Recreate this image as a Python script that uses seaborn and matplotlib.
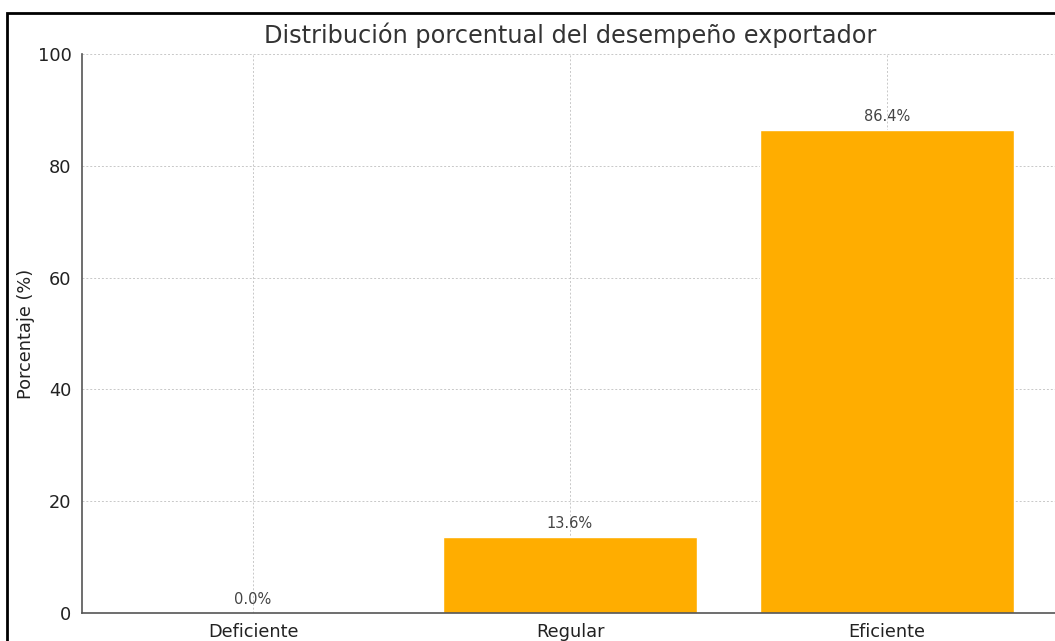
import matplotlib
matplotlib.use("Agg")
import matplotlib.pyplot as plt
import seaborn as sns
import pandas as pd
from matplotlib.patches import Rectangle

categorias = ["Deficiente", "Regular", "Eficiente"]
porcentajes = [0.0, 13.6, 86.4]
etiquetas = ["0.0%", "13.6%", "86.4%"]
yticks = [0, 20, 40, 60, 80, 100]

sns.set_style("white")
plt.rcParams['font.family'] = ['DejaVu Sans']

df = pd.DataFrame({"Categoria": categorias, "Porcentaje": porcentajes})

fig = plt.figure(figsize=(10.55, 6.41), dpi=100)
ax = fig.add_axes([82/1055, 1 - 613/641, (1058 - 82)/1055, (613 - 54)/641])

sns.barplot(data=df, x="Categoria", y="Porcentaje", color="#FFAD00",
            saturation=1, width=0.8, ax=ax, zorder=2)

for i, (v, t) in enumerate(zip(porcentajes, etiquetas)):
    ax.text(i, v + 1.0, t, ha="center", va="bottom", fontsize=10.5, color="#444444")

ax.set_ylim(0, 100)
ax.set_xlim(-0.54, 2.54)
ax.set_yticks(yticks)
ax.set_xlabel("")
ax.set_ylabel("Porcentaje (%)", fontsize=12.8, color="#222222", labelpad=2)
ax.set_title("Distribución porcentual del desempeño exportador", fontsize=17.3,
             color="#333333", pad=8)
ax.grid(True, linestyle=(0, (2, 2)), linewidth=0.7, color="#c8c8c8", zorder=0)
ax.set_axisbelow(True)
for s in ["top", "right"]:
    ax.spines[s].set_visible(False)
for s in ["left", "bottom"]:
    ax.spines[s].set_color("#555555")
    ax.spines[s].set_linewidth(1.2)
ax.tick_params(axis="both", which="major", direction="out", length=4, width=1,
               colors="#555555", labelsize=12.8, labelcolor="#222222")

fig.patches.append(Rectangle((7/1055, -0.1), 1.2, 1 - 13/641 + 0.1,
                             transform=fig.transFigure, fill=False,
                             edgecolor="black", linewidth=2, zorder=10))

fig.savefig("out.png", dpi=100)
